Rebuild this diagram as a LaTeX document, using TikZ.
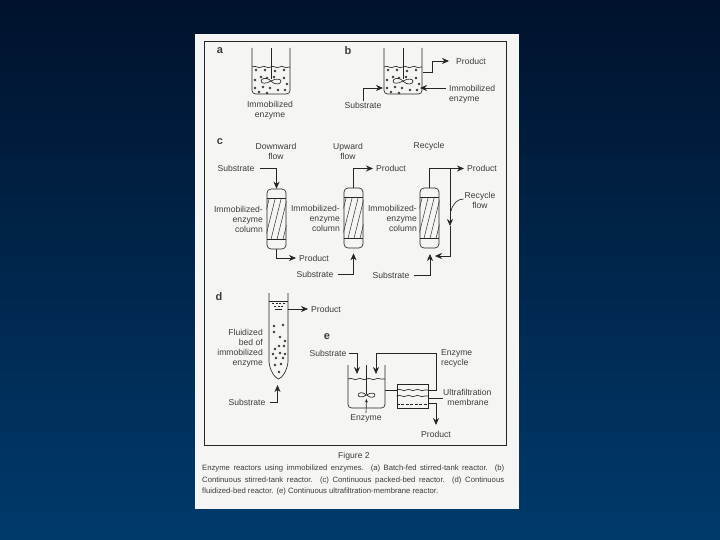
\documentclass[tikz,border=0pt]{standalone}
\usepackage{fontspec}
\setmainfont{Liberation Sans}
\usetikzlibrary{arrows.meta,decorations.pathmorphing}
\definecolor{inkc}{HTML}{262626}
\definecolor{txtc}{HTML}{3C3C3C}
\definecolor{paperc}{HTML}{F5F5F3}
\definecolor{bgtop}{HTML}{00122C}
\definecolor{bgbot}{HTML}{003A6C}
\tikzset{
  x=1pt,y=-1pt,
  ink/.style={draw=inkc,line width=0.65pt},
  flow/.style={ink,-{Stealth[length=7pt,width=6pt]}},
  plainline/.style={ink},
  lbl/.style={font=\fontsize{8.6}{10}\selectfont,text=txtc,inner sep=0pt,align=center},
  lbll/.style={lbl,anchor=west,align=left},
  lblr/.style={lbl,anchor=east,align=right},
  head/.style={font=\bfseries\fontsize{11}{12}\selectfont,text=txtc,inner sep=0pt},
  capline/.style={font=\fontsize{7.7}{9}\selectfont,text=txtc,inner sep=0pt,anchor=west},
  colbox/.style={ink,rounded corners=4pt,minimum width=19pt,minimum height=60pt,inner sep=0pt},
  wave/.style={ink,decorate,decoration={snake,amplitude=0.7pt,segment length=9pt}},
  bead/.style={draw=inkc,line width=0.5pt,fill=paperc},
  beaker/.pic={
    \draw[ink,rounded corners=3.5pt] (0,0) -- (0,46) -- (38,46) -- (38,0);
    \draw[wave] (0,19) -- (38,19);
    \draw[ink] (19,0) -- (19,31);
    \draw[ink] (19,33) .. controls (14,28) and (9,31) .. (9,33) .. controls (9,36) and (14,36) .. (19,33)
       .. controls (24,30) and (29,31) .. (29,33) .. controls (29,36) and (24,38) .. (19,33);
    \foreach \p/\q in {4/22,13/22,23/23,32/22,9/29,22/29,32/30,15/30,3/32,3/40,11/39,18/40,26/42,35/36,7/44,15/45,33/42}
      \filldraw[bead] (\p,\q) circle (1.05pt);
  }
}
\begin{document}
\begin{tikzpicture}
\useasboundingbox (0,0) rectangle (720,540);
\shade[top color=bgtop,bottom color=bgbot,draw=none] (0,0) rectangle (720,540);
\fill[paperc] (195,34) rectangle (519,509);
\draw[ink,line width=0.8pt] (204,41) rectangle (506,445);

% headings
\node[head] (ha) at (220,51) {a};
\node[head] (hb) at (348,51) {b};
\node[head] (hc) at (220,142) {c};
\node[head] (hd) at (219,297) {d};
\node[head] (he) at (327,337) {e};

% a
\pic at (252,48) {beaker};
\node[lbl] (ta) at (270,110) {Immobilized\\enzyme};

% b
\pic at (384,48) {beaker};
\coordinate (bout) at (423,72);
\coordinate (bsubin) at (383,88);
\coordinate (benz) at (420,88);
\node[lbll] (tbp) at (456,61) {Product};
\node[lbll] (tbe) at (449,94) {Immobilized\\enzyme};
\node[lbl] (tbs) at (363,105) {Substrate};
\draw[flow] (bout) -- (432,72) -- (432,61) -- (449,61);
\draw[flow] (tbs.north) ++(0,-1) |- (bsubin);
\draw[flow] (446,88) -- (benz);

% c titles
\node[lbl] (t1) at (276,151.5) {Downward\\flow};
\node[lbl] (t2) at (348,151.5) {Upward\\flow};
\node[lbl] (t3) at (429,146) {Recycle};

% columns
\node[colbox] (c1) at (276.5,219) {};
\node[colbox] (c2) at (353.5,218) {};
\node[colbox] (c3) at (429.5,218) {};
\foreach \c in {c1,c2,c3}{
  \draw[ink] ([yshift=-10pt]\c.north west) -- ([yshift=-10pt]\c.north east);
  \draw[ink] ([yshift=10pt]\c.south west) -- ([yshift=10pt]\c.south east);
  \begin{scope}
    \clip ([yshift=-10pt]\c.north west) rectangle ([yshift=10pt]\c.south east);
    \foreach \d in {-24,-18,...,22}
      \draw[plainline,line width=0.5pt] ([xshift=\d pt]\c.south) ++(-8,0) -- ++(15,-60);
  \end{scope}
}
\node[lblr] (i1) at (263,219) {Immobilized-\\enzyme\\column};
\node[lblr] (i2) at (340,218.5) {Immobilized-\\enzyme\\column};
\node[lblr] (i3) at (417,218.5) {Immobilized-\\enzyme\\column};

% c1
\node[lbl] (s1) at (236,168) {Substrate};
\node[lbll] (p1) at (299,258) {Product};
\draw[flow] (s1.east) ++(5,0) -| (c1.north);
\draw[flow] (c1.south) |- ([xshift=-3pt]p1.west);

% c2
\node[lbll] (p2) at (376,168.5) {Product};
\node[lbl] (s2) at (315,274) {Substrate};
\draw[flow] (c2.north) |- ([xshift=-3pt]p2.west);
\draw[plainline] (s2.east) ++(4,0) -| (353.5,262);
\coordinate (a2) at (353.5,262);
\draw[flow] (a2) -- ([yshift=-5pt]c2.south);

% c3
\node[lbll] (p3) at (467,168.5) {Product};
\node[lbl] (s3) at (391,275) {Substrate};
\node[lbl] (rf) at (480,200) {Recycle\\flow};
\coordinate (rj) at (450,168.5);
\coordinate (rb) at (450,256);
\coordinate (rm) at (450,226);
\coordinate (rend) at (435,256);
\draw[flow] (c3.north) |- ([xshift=-3pt]p3.west);
\draw[flow] (rj) -- (rm);
\draw[flow] (rm) -- (rb) -- (rend);
\draw[plainline] (s3.east) ++(4,0) -| (430,262);
\draw[flow] (430,262) -- (430,254);
\draw[plainline] (rf.west) ++(-1,-1) .. controls (458,199) and (453,203) .. (451,211);

% d
\coordinate (dtl) at (269,293);
\coordinate (dtr) at (288,293);
\draw[ink] (dtl) -- (269,362) .. controls (270,371) and (275,378) .. (278.5,379)
  .. controls (282,378) and (287,371) .. (288,362) -- (dtr);
\draw[ink] (dtl) ++(0,8) -- ++(19,0);
\draw[ink,dash pattern=on 2pt off 1.5pt,line width=0.4pt] (272,303) -- (286,303);
\draw[ink,dash pattern=on 2pt off 1.5pt,line width=0.4pt] (274,306) -- (284,306);
\draw[ink] (275,309) -- (282,309);
\foreach \p/\q in {274/326,283/325,274/332,280/337,285/341,279/346,275/349,284/346,273/354,276/358,280/353,285/354,281/364,275/365,279/372,283/358}
  \filldraw[bead] (\p,\q) circle (1pt);
\coordinate (dout) at (288,309);
\node[lbll] (dp) at (311,309) {Product};
\node[lblr] (dt) at (263,348) {Fluidized\\bed of\\immobilized\\enzyme};
\node[lbl] (ds) at (247,402) {Substrate};
\coordinate (dup) at (277.5,385);
\draw[flow] (dout) -- ([xshift=-3pt]dp.west);
\draw[flow] (ds.east) ++(4,0) -| (dup);

% e
\draw[ink,rounded corners=3.5pt] (348,365) -- (348,408) -- (385,408) -- (385,365);
\draw[wave] (348,379) -- (385,379);
\draw[ink] (366.5,365) -- (366.5,394);
\draw[ink] (366.5,395) .. controls (362,391) and (358,393) .. (358,395) .. controls (358,397) and (362,398) .. (366.5,395)
  .. controls (371,392) and (375,393) .. (375,395) .. controls (375,397) and (371,399) .. (366.5,395);
\node[lbl] (eenz) at (366,418) {Enzyme};
\coordinate (estir) at (366.5,399);
\draw[ink,-{Stealth[length=3.5pt,width=3pt]}] (eenz.north) ++(0,-1) -- (estir);
\node[lbl] (es) at (328,353) {Substrate};
\coordinate (ein) at (357,374);
\draw[flow] (es.east) ++(2,0) -| (ein);
\node[draw=inkc,line width=0.65pt,minimum width=31pt,minimum height=24pt,inner sep=0pt] (mem) at (412.5,396) {};
\draw[wave] (mem.west |- 0,390) -- (mem.east |- 0,390);
\draw[wave] (mem.west |- 0,396) -- (mem.east |- 0,396);
\draw[ink,dash pattern=on 3pt off 1.5pt,line width=0.45pt] (mem.west |- 0,404) -- (mem.east |- 0,404);
\coordinate (ebk) at (385,390);
\draw[ink] (ebk) -- (mem.west |- ebk);
\coordinate (ercy) at (376,374);
\draw[flow] (mem.east |- 0,390) -- (436,390) -- (436,353) -- (376,353) -- (ercy);
\node[lbll] (ert) at (441,358) {Enzyme\\recycle};
\node[lbll] (eum) at (443,392) {Ultrafiltration};
\node[lbl] (eum2) at (468,402) {membrane};
\draw[ink] (mem.east |- 0,398) -- (443,398);
\node[lbl] (epr) at (436,434) {Product};
\draw[flow] (mem.east |- 0,403) -- (436,403) -- (436,425);

% caption
\node[font=\fontsize{8.6}{10}\selectfont,text=txtc,inner sep=0pt] (figt) at (354,456) {Figure 2};
\node[capline] (l1) at (202,469) {\makebox[302pt][s]{Enzyme reactors using immobilized enzymes. (a) Batch-fed stirred-tank reactor. (b)}};
\node[capline] (l2) at (202,480.5) {\makebox[302pt][s]{Continuous stirred-tank reactor. (c) Continuous packed-bed reactor. (d) Continuous}};
\node[capline] (l3) at (202,492) {fluidized-bed reactor. (e) Continuous ultrafiltration-membrane reactor.};
\end{tikzpicture}
\end{document}
